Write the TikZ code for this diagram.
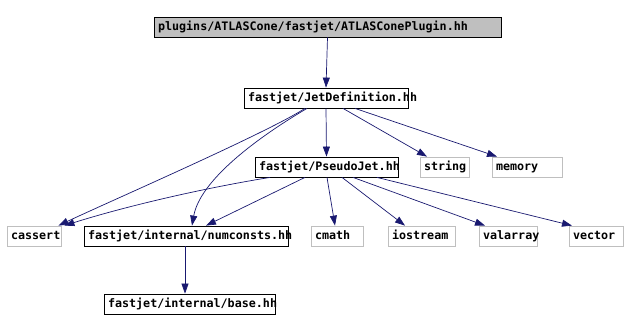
\documentclass[tikz,border=0pt]{standalone}
\usepackage{fontspec}
\newfontfamily\dfont{DejaVu Sans Mono}
\usetikzlibrary{arrows.meta}
\definecolor{edgec}{HTML}{191970}
\definecolor{greyb}{HTML}{BFBFBF}
\newcommand{\fb}[2]{\makebox[#1pt][l]{#2}}
\tikzset{
  file/.style={draw=black, line width=0.8pt, rectangle, minimum height=20pt, text height=8.5pt, text depth=2.5pt, inner xsep=4pt, inner ysep=0pt, font=\dfont\bfseries\fontsize{11.7}{12}\selectfont, anchor=center},
  sysfile/.style={file, draw=greyb},
  topfile/.style={file, fill=greyb},
  dep/.style={draw=edgec, line width=0.7pt, -{Triangle[length=10pt,width=7pt]}},
}
\begin{document}
\begin{tikzpicture}[x=1pt,y=-1pt]
\useasboundingbox (0,0) rectangle (628,332);
\node[topfile] (top) at (327.5,27) {\fb{339}{plugins/ATLASCone/fastjet/ATLASConePlugin.hh}};
\node[file] (jd) at (326,98) {\fb{156}{fastjet/JetDefinition.hh}};
\node[file] (pj) at (326.5,167) {\fb{135}{fastjet/PseudoJet.hh}};
\node[sysfile] (str) at (444.5,167) {\fb{41}{string}};
\node[sysfile] (mem) at (527,167) {\fb{62}{memory}};
\node[sysfile] (cas) at (34,236) {\fb{46}{cassert}};
\node[file] (num) at (186,236) {\fb{196}{fastjet/internal/numconsts.hh}};
\node[sysfile] (cm) at (337,236) {\fb{44}{cmath}};
\node[sysfile] (ios) at (421.5,236) {\fb{59}{iostream}};
\node[sysfile] (val) at (508,236) {\fb{50}{valarray}};
\node[sysfile] (vec) at (596,236) {\fb{46}{vector}};
\node[file] (base) at (189.5,304) {\fb{163}{fastjet/internal/base.hh}};

\draw[dep] (top.south) -- (jd.north);
\draw[dep] (jd.south) -- (pj.north);
\draw[dep] ([xshift=17pt]jd.south) -- ([xshift=-17.5pt]str.north);
\draw[dep] ([xshift=29pt]jd.south) -- ([xshift=-30pt]mem.north);
\draw[dep] ([xshift=-21pt]jd.south) .. controls ([xshift=-60pt,yshift=-25pt]jd.south) and ([xshift=50pt,yshift=25pt]cas.north east) .. ([xshift=-3pt]cas.north east);
\draw[dep] ([xshift=-19pt]jd.south) .. controls ([xshift=-70pt,yshift=-30pt]jd.south) and ([xshift=14pt,yshift=45pt]num.north) .. ([xshift=6pt]num.north);
\draw[dep] ([xshift=-56.5pt]pj.south) .. controls ([xshift=-130pt,yshift=-12pt]pj.south) and ([xshift=60pt,yshift=18pt]cas.north east) .. ([xshift=3pt]cas.north east);
\draw[dep] ([xshift=-21.5pt]pj.south) -- ([xshift=20pt]num.north);
\draw[dep] ([xshift=0.5pt]pj.south) -- ([xshift=-2pt]cm.north);
\draw[dep] ([xshift=15.5pt]pj.south) -- ([xshift=-16.5pt]ios.north);
\draw[dep] ([xshift=26.5pt]pj.south) -- ([xshift=-23pt]val.north);
\draw[dep] ([xshift=50.5pt]pj.south) -- ([xshift=-24pt]vec.north);
\draw[dep] ([xshift=-1pt]num.south) -- ([xshift=-4.5pt]base.north);
\end{tikzpicture}
\end{document}
